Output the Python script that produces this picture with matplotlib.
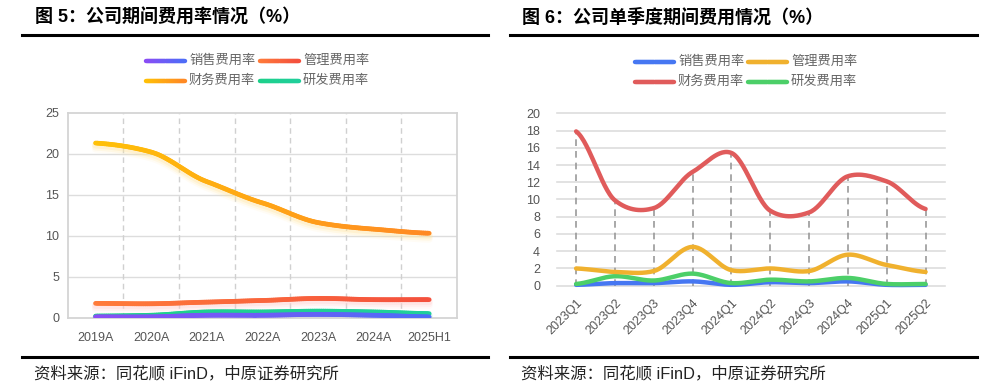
import numpy as np
import matplotlib
matplotlib.use("Agg")
import matplotlib.pyplot as plt
from matplotlib.collections import LineCollection
from matplotlib.lines import Line2D
from matplotlib.colors import to_rgb
from matplotlib.transforms import ScaledTranslation

plt.rcParams['font.family'] = ['Liberation Sans', 'Noto Sans CJK SC', 'DejaVu Sans']

# ---- data: left chart (annual) ----
years = ['2019A', '2020A', '2021A', '2022A', '2023A', '2024A', '2025H1']
sales_y = [0.1, 0.1, 0.3, 0.3, 0.4, 0.3, 0.1]
admin_y = [1.75, 1.7, 1.9, 2.1, 2.35, 2.2, 2.2]
fin_y = [21.3, 20.2, 16.6, 14.0, 11.6, 10.8, 10.3]
rnd_y = [0.2, 0.3, 0.7, 0.7, 0.8, 0.7, 0.5]

# ---- data: right chart (quarterly) ----
quarters = ['2023Q1', '2023Q2', '2023Q3', '2023Q4', '2024Q1', '2024Q2',
            '2024Q3', '2024Q4', '2025Q1', '2025Q2']
sales_q = [0.1, 0.3, 0.3, 0.5, 0.1, 0.4, 0.3, 0.5, 0.1, 0.1]
admin_q = [2.0, 1.6, 1.7, 4.5, 1.8, 2.0, 1.7, 3.6, 2.4, 1.6]
fin_q = [17.9, 9.9, 9.0, 13.2, 15.4, 8.7, 8.5, 12.7, 12.1, 8.9]
rnd_q = [0.2, 1.1, 0.6, 1.4, 0.3, 0.7, 0.5, 0.9, 0.2, 0.2]

names = ['销售费用率', '管理费用率', '财务费用率', '研发费用率']

W, H = 998, 390
fig = plt.figure(figsize=(W / 100, H / 100), dpi=100)


def fx(px):
    return px / W


def fy(py):
    return 1 - py / H


def smooth(y, n=30, k=0.8):
    # tension-reduced catmull-rom curve through the points, only for drawing
    y = np.asarray(y, float)
    xs, ys = [], []
    m = len(y)
    for i in range(m - 1):
        p1 = y[i]
        p2 = y[i + 1]
        d1 = k * 0.5 * (y[min(i + 1, m - 1)] - y[max(i - 1, 0)])
        d2 = k * 0.5 * (y[min(i + 2, m - 1)] - y[i])
        t = np.linspace(0, 1, n, endpoint=(i == m - 2))
        h00 = 2 * t ** 3 - 3 * t ** 2 + 1
        h10 = t ** 3 - 2 * t ** 2 + t
        h01 = -2 * t ** 3 + 3 * t ** 2
        h11 = t ** 3 - t ** 2
        xs.append(i + t)
        ys.append(h00 * p1 + h10 * d1 + h01 * p2 + h11 * d2)
    return np.concatenate(xs), np.clip(np.concatenate(ys), 0, None)


def grad_line(target, x, y, c0, c1, lw, transform, zorder=3):
    pts = np.column_stack([x, y]).reshape(-1, 1, 2)
    segs = np.concatenate([pts[:-1], pts[1:]], axis=1)
    f = np.linspace(0, 1, len(segs))[:, None]
    cols = (1 - f) * np.array(to_rgb(c0)) + f * np.array(to_rgb(c1))
    lc = LineCollection(segs, colors=cols, linewidths=lw, capstyle='round',
                        joinstyle='round', zorder=zorder, transform=transform)
    if hasattr(target, 'add_collection'):
        target.add_collection(lc)
    else:
        target.add_artist(lc)


def header(x0, x1, title, tx):
    fig.text(fx(tx), fy(18), title, fontsize=13, fontweight='bold',
             va='center', ha='left', color='black')
    fig.add_artist(Line2D([fx(x0), fx(x1)], [fy(35), fy(35)], color='black', lw=2.2))
    fig.add_artist(Line2D([fx(x0), fx(x1)], [fy(357), fy(357)], color='black', lw=2.2))
    fig.text(fx(tx - 1), fy(374), '资料来源：同花顺 iFinD，中原证券研究所', fontsize=11.8,
             va='center', ha='left', color='#222222')


def legend(cols_x, rows_y, entries):
    # entries: (name, c0, c1) in row-major order, 2 columns
    for k, (name, c0, c1) in enumerate(entries):
        cx = cols_x[k % 2]
        ry = rows_y[k // 2]
        xs = np.linspace(fx(cx), fx(cx + 39), 20)
        grad_line(fig, xs, np.full_like(xs, fy(ry)), c0, c1, 3.2, fig.transFigure)
        fig.text(fx(cx + 43), fy(ry), name, fontsize=9.5, color='#666666',
                 va='center', ha='left')


# ================= left chart =================
header(22, 488, '图 5：公司期间费用率情况（%）', 35)
legend([146, 260], [61, 81],
       [(names[0], '#8B4DF5', '#4F6CF7'), (names[1], '#FF7B3A', '#F4513D'),
        (names[2], '#FFC107', '#FF8A24'), (names[3], '#1DD08A', '#20CF9B')])

ax1 = fig.add_axes([fx(67.7), fy(317.7), fx(457) - fx(67.7), fy(112.7) - fy(317.7)])
ax1.set_xlim(-0.5, len(years) - 0.5)
ax1.set_ylim(0, 25)
ax1.set_yticks(range(0, 26, 5))
ax1.set_xticks(range(len(years)))
ax1.set_xticklabels(years)
ax1.tick_params(length=0, labelsize=9, colors='#555555')
ax1.tick_params(axis='x', pad=10)
ax1.tick_params(axis='y', pad=6)
for s in ax1.spines.values():
    s.set_color('#d4d4d4')
    s.set_linewidth(1.3)
for v in range(5, 25, 5):
    ax1.axhline(v, color='#dddddd', lw=1, zorder=0)
for b in np.arange(0.5, len(years) - 1, 1):
    ax1.axvline(b, color='#d0d0d0', lw=1, ls=(0, (4, 3)), zorder=0)

glow = [(fin_y, '#FFE7A3'), (admin_y, '#FFCFCF'), (rnd_y, '#A8EED2')]
for yv, gc in glow:
    sx, sy = smooth(yv)
    for off, a in [(-2, 0.3), (-4, 0.2), (-6, 0.1)]:
        tr = ax1.transData + ScaledTranslation(0, off / 100, fig.dpi_scale_trans)
        ax1.plot(sx, sy, color=gc, lw=5, alpha=a, transform=tr, zorder=2,
                 solid_capstyle='round')

left_series = [(sales_y, '#8B4DF5', '#4F6CF7'), (admin_y, '#FF7B3A', '#F4513D'),
               (fin_y, '#FFC107', '#FF8A24'), (rnd_y, '#1DD08A', '#20CF9B')]
for yv, c0, c1 in [left_series[3], left_series[0], left_series[1], left_series[2]]:
    sx, sy = smooth(yv)
    grad_line(ax1, sx, sy, c0, c1, 3.4, ax1.transData, zorder=4)

# ================= right chart =================
header(510, 977, '图 6：公司单季度期间费用情况（%）', 522)
legend([635, 748], [62, 82],
       [(names[0], '#4677F2', '#4677F2'), (names[1], '#F0B12E', '#F0B12E'),
        (names[2], '#E05B5B', '#E05B5B'), (names[3], '#4CCF68', '#4CCF68')])

ax2 = fig.add_axes([fx(556.7), fy(285.7), fx(945) - fx(556.7), fy(113.3) - fy(285.7)])
ax2.set_xlim(-0.5, len(quarters) - 0.5)
ax2.set_ylim(0, 20)
ax2.set_yticks(range(0, 21, 2))
ax2.set_xticks(range(len(quarters)))
ax2.set_xticklabels(quarters, rotation=45, ha='right', va='top', rotation_mode='anchor')
ax2.tick_params(length=0, labelsize=9, colors='#555555')
ax2.tick_params(axis='x', pad=8)
ax2.tick_params(axis='y', pad=12)
for s in ax2.spines.values():
    s.set_visible(False)
for v in range(0, 21, 2):
    ax2.axhline(v, color='#dddddd', lw=1.2, zorder=0, clip_on=False)
ax2.vlines(range(len(quarters)), 0, fin_q, colors='#999999', lw=1.2,
           linestyles=(0, (4, 3)), zorder=1)

right_series = [(fin_q, '#E05B5B'), (admin_q, '#F0B12E'), (rnd_q, '#4CCF68'), (sales_q, '#4677F2')]
for k, (yv, c) in enumerate([right_series[3], right_series[2], right_series[1], right_series[0]]):
    sx, sy = smooth(yv)
    ax2.plot(sx, sy, color=c, lw=3.2, solid_capstyle='round', zorder=3 + k, clip_on=False)

fig.savefig('out.png', dpi=100)
